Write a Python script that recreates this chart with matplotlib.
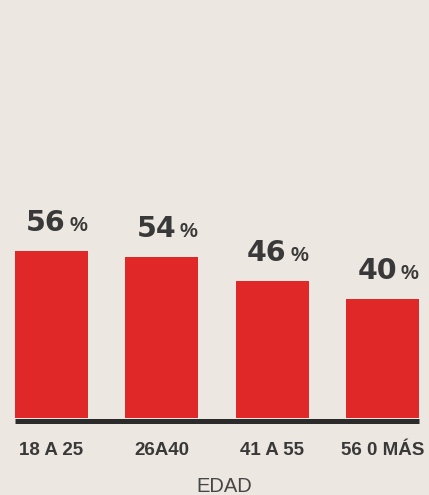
import matplotlib
matplotlib.use("Agg")
import matplotlib.pyplot as plt
import matplotlib.transforms as mtransforms

# Data
grupos = ["18 A 25", "26A40", "41 A 55", "56 0 MÁS"]
porcentajes = [56, 54, 46, 40]

FONDO = "#ece7e0"
ROJO = "#e02828"
TEXTO = "#3a3939"
LINEA = "#2b2b2b"

fig = plt.figure(figsize=(4.29, 4.95), dpi=100, facecolor=FONDO)
ax = fig.add_axes([15 / 429, 77 / 495, 404 / 429, 418 / 495])
ax.set_facecolor(FONDO)

x = range(len(grupos))
ax.bar(x, porcentajes, width=0.66, color=ROJO, linewidth=0)
ax.set_xlim(-0.33, len(grupos) - 1 + 0.33)
ax.set_ylim(0, 140.3)

# base line just under the bars
base = mtransforms.offset_copy(ax.transData, fig=fig, x=0, y=-2.5, units="dots")
ax.plot([-0.33, len(grupos) - 1 + 0.33], [0, 0], color=LINEA, lw=3.6,
        transform=base, solid_capstyle="butt", clip_on=False)

# value labels: big number + smaller percent sign
for xi, v in zip(x, porcentajes):
    ax.annotate(str(v), (xi, v), xytext=(10.5, 14.4), textcoords="offset points",
                ha="right", va="baseline", fontsize=20.5, fontweight="bold",
                family="DejaVu Sans", color=TEXTO)
    ax.annotate("%", (xi, v), xytext=(13.0, 14.4), textcoords="offset points",
                ha="left", va="baseline", fontsize=14.5, fontweight="bold",
                family="Liberation Sans", color=TEXTO)

ax.set_xticks(list(x))
ax.set_xticklabels(grupos, fontsize=13.5, fontweight="bold",
                   family="Liberation Sans", color=TEXTO)
ax.tick_params(axis="x", length=0, pad=17.5)
ax.set_yticks([])
for s in ax.spines.values():
    s.set_visible(False)

ax.set_xlabel("EDAD", fontsize=14.5, family="Liberation Sans", color="#474646")
ax.xaxis.set_label_coords(0.517, -0.142)

fig.savefig("out.png", dpi=100, facecolor=FONDO)
